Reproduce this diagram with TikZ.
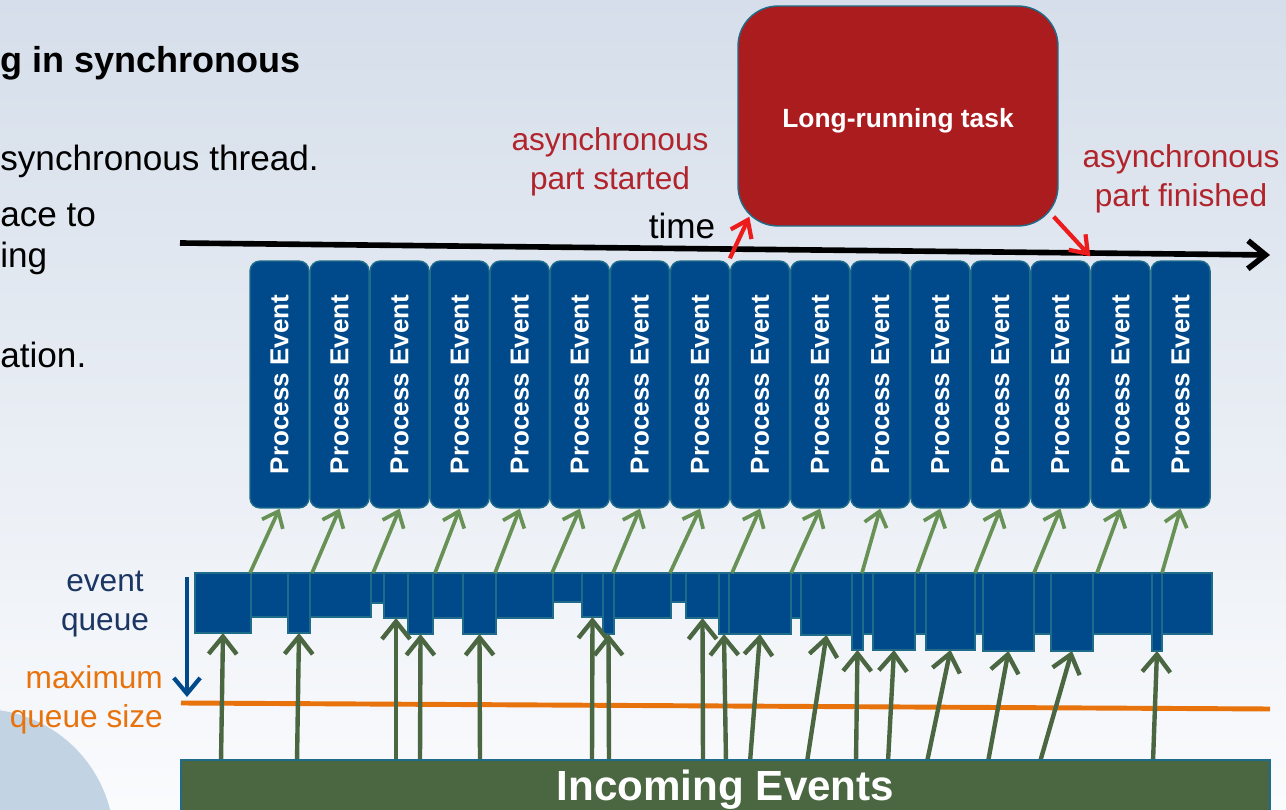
\documentclass[tikz,border=0pt]{standalone}
\usepackage{fontspec}
\setmainfont{Liberation Sans}
\usepackage{graphicx}
\usetikzlibrary{arrows.meta,positioning,calc}

\definecolor{evblue}{RGB}{0,74,140}
\definecolor{evedge}{RGB}{30,108,138}
\definecolor{taskred}{RGB}{171,28,31}
\definecolor{lblred}{RGB}{178,36,44}
\definecolor{arrred}{RGB}{236,28,28}
\definecolor{ingreen}{RGB}{74,103,65}
\definecolor{outgreen}{RGB}{104,145,86}
\definecolor{maxorange}{RGB}{232,114,12}
\definecolor{qnavy}{RGB}{28,54,100}
\definecolor{bgtop}{RGB}{213,222,234}
\definecolor{bgmid}{RGB}{238,242,247}
\definecolor{bgbot}{RGB}{250,251,253}
\definecolor{blob}{RGB}{194,211,228}

\tikzset{
  pebox/.style={fill=evblue, draw=evedge, line width=0.8pt, rounded corners=0.2cm,
    minimum width=1.18cm, minimum height=4.94cm, inner sep=0pt, text=white,
    font=\bfseries\fontsize{14.8}{17}\selectfont},
  qcell/.style={fill=evblue, draw=evedge, line width=0.8pt},
  taskbox/.style={fill=taskred, draw=evedge, line width=0.8pt, rounded corners=0.8cm,
    minimum width=6.4cm, minimum height=4.4cm, text=white, text height=15.6pt, text depth=3pt,
    font=\bfseries\fontsize{15}{18}\selectfont},
  inbar/.style={fill=ingreen, draw=evedge, line width=1pt, minimum width=21.78cm,
    minimum height=1.2cm, text=white, font=\bfseries\fontsize{24}{28}\selectfont},
  inarrow/.style={draw=ingreen, line width=2.5pt, -{Straight Barb[length=10pt,width=16pt]}},
  outarrow/.style={draw=outgreen, line width=2.1pt, -{Straight Barb[length=8pt,width=13pt]}},
  redarrow/.style={draw=arrred, line width=2.4pt, -{Straight Barb[length=9pt,width=13pt]}},
  redlbl/.style={text=lblred, align=center, font=\fontsize{18}{22}\selectfont},
  slide/.style={anchor=base west, inner sep=0pt, font=\fontsize{20}{24}\selectfont},
}

\begin{document}
\begin{tikzpicture}[x=0.02cm, y=-0.02cm]
  \useasboundingbox (0,0) rectangle (1286,810);
  \shade[top color=bgtop, middle color=bgmid, bottom color=bgbot] (0,0) rectangle (1286,810);
  \fill[blob] (-19,842) circle (2.66cm);

  % slide text behind the picture
  \node[slide, font=\bfseries\fontsize{20.5}{24}\selectfont] (head) at (0,73) {g in synchronous};
  \node[slide] (line1) at (0,171) {synchronous thread.};
  \node[slide] (line2) at (0,227) {ace to};
  \node[slide] (line3) at (0,268) {ing};
  \node[slide] (line4) at (0,368) {ation.};

  % time axis
  \coordinate (t0) at (180,243);
  \coordinate (t1) at (1270,255);
  \draw[line width=3.2pt, -{Straight Barb[length=10pt,width=16pt]}] (t0) -- (t1);
  \node[anchor=base, font=\fontsize{20}{24}\selectfont] (tlbl) at (682,239) {time};

  \node[taskbox] (task) at (898,116) {Long-running task};
  \node[redlbl] (started) at (610,162) {asynchronous\\part started};
  \node[redlbl] (finished) at (1181,179) {asynchronous\\part finished};

  \foreach \i in {1,...,16}
    \node[pebox] (pe\i) at ({279.5+60.07*(\i-1)},384.5) {\rotatebox{90}{Process Event}};

  \draw[redarrow] ($(pe9.north west)+(0,-2)$) -- ($(task.south west)+(12,-10)$);
  \draw[redarrow] ($(task.south east)+(-5,-10)$) -- ($(pe15.north west)+(0,-4)$);

  % queue size
  \coordinate (m0) at (181,703);
  \coordinate (m1) at (1270,709);
  \draw[maxorange, line width=2.8pt] (m0) -- (m1);
  \node[text=qnavy, align=center, font=\fontsize{18}{22}\selectfont] (qlbl) at (105,604) {event\\queue};
  \node[text=maxorange, align=right, anchor=east, font=\fontsize{18}{22}\selectfont] (mlbl) at (169,700) {maximum\\queue size};
  \coordinate (qd0) at (187,577);
  \coordinate (qd1) at (187,697);
  \draw[evblue, line width=2.4pt, -{Straight Barb[length=9pt,width=15pt]}] (qd0) -- (qd1);

  % event queue
  \foreach \xa/\xb/\yb [count=\k] in {195/251/633, 251/288/617, 288/310/633, 310/371/617,
      371/384/603, 384/408/618, 408/433/634, 433/463/618, 463/496/634, 496/553/618,
      553/582/602, 582/603/617, 603/614/634, 614/671/618, 671/686/602, 686/719/618,
      719/729/634, 729/791/634, 791/801/618, 801/852/635, 852/863/650, 863/873/634,
      873/915/650, 915/926/634, 926/975/650, 975/983/634, 983/1034/651, 1034/1051/634,
      1051/1093/651, 1093/1152/634, 1152/1162/651, 1162/1212/634} {
    \draw[qcell] (\xa,573) rectangle (\xb,\yb);
    \coordinate (q\k) at ({(\xa+\xb)/2},\yb);
  }

  \foreach \i/\xs in {1/250, 2/312, 3/373, 4/435, 5/495, 6/552, 7/613, 8/670,
      9/732, 10/791, 11/862, 12/917, 13/975, 14/1034, 15/1097, 16/1162} {
    \coordinate (qt\i) at (\xs,573);
    \draw[outarrow] (qt\i) -- (pe\i.south);
  }

  \foreach \k/\xs in {1/221, 3/297, 6/396, 7/420, 9/480, 12/592, 13/609, 16/703,
      17/726, 18/750, 20/807, 21/856, 23/888, 25/927, 27/988, 29/1040, 31/1153} {
    \coordinate (in\k) at (\xs,762);
    \draw[inarrow] (in\k) -- (q\k);
  }

  \node[inbar] (inc) at (725.5,790) {Incoming Events};
\end{tikzpicture}
\end{document}
